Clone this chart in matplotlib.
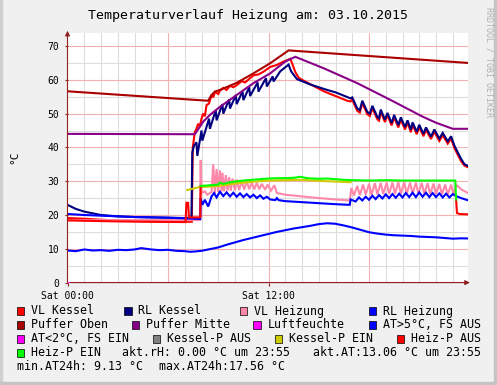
import numpy as np
import matplotlib
matplotlib.use("Agg")
import matplotlib.pyplot as plt
from matplotlib.patches import Rectangle

nan = np.nan

# Stunden seit Sat 00:00
t_vlk = [0, 1, 2, 3, 4, 5, 6, 7.0, 7.42, 7.48, 7.6, 7.7, 7.8, 7.9, 8.0, 8.1, 8.2, 8.3, 8.45, 8.6, 8.7,
         8.8, 9.0, 9.1, 9.3, 9.5, 9.7, 9.9, 10.1, 10.4, 10.6, 10.9, 11.1, 11.4, 11.7, 12.1, 12.5, 12.9,
         13.3, 13.4, 13.6, 13.8, 14.3, 15.3, 16.0, 16.7, 16.9, 17.0, 17.3, 17.45, 17.6, 17.9, 18.05, 18.2,
         18.5, 18.6, 18.7, 18.95, 19.1, 19.35, 19.5, 19.75, 19.9, 20.15, 20.3, 20.5, 20.6, 20.85, 21.0,
         21.25, 21.4, 21.7, 21.9, 22.2, 22.4, 22.7, 22.9, 23.1, 23.3, 23.5, 23.7, 23.88]
v_vlk = [19.1, 18.9, 18.6, 18.4, 18.2, 18.1, 18.0, 18.0, 18.0, 40.0, 44.5, 45.5, 47.0, 46.2, 48.5, 50.0,
         49.2, 52.5, 53.0, 55.5, 54.8, 56.4, 55.8, 56.8, 57.6, 57.0, 58.2, 57.8, 58.4, 59.6, 59.2, 60.5,
         61.3, 61.6, 62.4, 63.8, 64.4, 65.4, 66.2, 65.0, 62.3, 60.6, 59.2, 56.6, 55.2, 53.8, 53.6, 54.1,
         50.8, 50.3, 53.1, 49.8, 49.3, 51.6, 48.3, 47.9, 50.5, 47.5, 49.5, 46.5, 48.9, 45.9, 48.2, 45.3,
         47.3, 44.5, 46.7, 43.9, 46.0, 43.3, 45.2, 42.5, 44.6, 41.9, 43.6, 41.1, 42.6, 39.8, 37.8, 35.9,
         34.6, 34.2]

t_rlk = [0, 0.5, 1, 2, 3, 4, 5, 6, 7, 7.4, 7.45, 7.55, 7.7, 7.75, 8.0, 8.05, 8.45, 8.5, 8.85, 8.9, 9.25,
         9.3, 9.65, 9.7, 10.05, 10.1, 10.45, 10.5, 10.85, 10.9, 11.35, 11.4, 11.85, 11.9, 12.25, 12.3,
         12.7, 13.2, 13.35, 13.5, 13.7, 14.0, 14.5, 15.0, 15.5, 16.0, 16.5, 16.9, 17.0, 17.3, 17.45, 17.6,
         17.9, 18.05, 18.2, 18.5, 18.6, 18.7, 18.95, 19.1, 19.35, 19.5, 19.75, 19.9, 20.15, 20.3, 20.5,
         20.6, 20.85, 21.0, 21.25, 21.4, 21.7, 21.9, 22.2, 22.4, 22.7, 22.9, 23.1, 23.3, 23.5, 23.7, 23.88]
v_rlk = [23.0, 21.8, 21.0, 20.0, 19.6, 19.4, 19.3, 19.2, 19.1, 19.2, 38.5, 40.5, 41.5, 37.5, 45.0, 42.0,
         48.5, 45.5, 51.0, 48.0, 52.8, 50.0, 54.2, 51.5, 55.5, 52.8, 56.6, 54.0, 57.8, 55.2, 59.2, 56.5,
         60.5, 58.0, 61.0, 59.5, 62.5, 64.5, 62.5, 61.5, 60.2, 59.6, 58.6, 57.8, 57.0, 56.3, 55.3, 54.5,
         54.8, 51.5, 51.0, 53.8, 50.5, 50.0, 52.3, 49.0, 48.6, 51.2, 48.2, 50.2, 47.2, 49.6, 46.6, 48.9,
         46.0, 48.0, 45.2, 47.4, 44.6, 46.7, 44.0, 45.9, 43.2, 45.3, 42.6, 44.3, 41.8, 43.3, 40.5, 38.5,
         36.6, 35.0, 34.6]

t_vlh = [0, 7.9, 7.95, 8.0, 8.2, 8.35, 8.6, 8.7, 8.8, 8.9, 9.0, 9.1, 9.2, 9.25, 9.35, 9.45, 9.55, 9.65,
         9.75, 9.85, 10.0, 10.1, 10.25, 10.4, 10.55, 10.7, 10.85, 11.0, 11.15, 11.3, 11.45, 11.6, 11.8,
         11.95, 12.15, 12.35, 12.5, 13.0, 14.0, 15.0, 16.0, 16.85, 16.95, 17.1, 17.3, 17.45, 17.65, 17.8,
         18.0, 18.15, 18.35, 18.5, 18.7, 18.85, 19.05, 19.2, 19.4, 19.55, 19.75, 19.9, 20.1, 20.25, 20.45,
         20.6, 20.8, 20.95, 21.15, 21.3, 21.5, 21.65, 21.85, 22.0, 22.2, 22.35, 22.55, 22.7, 22.9, 23.05,
         23.2, 23.5, 23.88]
v_vlh = [18.5, 18.5, 36.3, 26.5, 27.0, 26.0, 26.8, 35.0, 26.5, 33.6, 26.8, 33.2, 27.0, 32.5, 27.0, 31.8,
         27.2, 31.2, 27.2, 30.8, 27.3, 30.5, 27.4, 30.0, 27.5, 30.0, 27.6, 29.6, 27.6, 29.5, 27.6, 29.2,
         27.5, 29.0, 27.2, 28.8, 26.5, 26.0, 25.5, 25.0, 24.6, 24.3, 28.0, 25.8, 28.6, 25.9, 29.0, 26.0,
         29.2, 26.0, 29.4, 26.1, 29.5, 26.2, 29.6, 26.2, 29.6, 26.3, 29.7, 26.3, 29.7, 26.3, 29.6, 26.3,
         29.6, 26.3, 29.5, 26.3, 29.4, 26.2, 29.3, 26.2, 29.2, 26.1, 29.0, 26.1, 29.0, 26.0, 29.0, 27.6,
         26.6]

t_rlh = [0, 1, 2, 3, 4, 5, 6, 7, 7.93, 7.95, 8.05, 8.2, 8.4, 8.6, 8.75, 8.9, 9.1, 9.3, 9.5, 9.7, 9.9,
         10.1, 10.3, 10.5, 10.7, 10.9, 11.1, 11.3, 11.5, 11.7, 11.9, 12.1, 12.4, 12.5, 12.6, 13.0, 14.0,
         15.0, 16.0, 16.85, 16.9, 17.2, 17.4, 17.6, 17.8, 18.0, 18.2, 18.4, 18.6, 18.8, 19.0, 19.2, 19.4,
         19.6, 19.8, 20.0, 20.2, 20.4, 20.6, 20.8, 21.0, 21.2, 21.4, 21.6, 21.8, 22.0, 22.2, 22.4, 22.6,
         22.8, 23.0, 23.2, 23.5, 23.88]
v_rlh = [20.3, 20.0, 19.8, 19.6, 19.4, 19.3, 19.2, 19.0, 18.8, 25.0, 23.0, 24.5, 22.5, 25.5, 26.5, 25.2,
         26.9, 25.6, 26.7, 25.5, 26.6, 25.4, 26.4, 25.3, 26.2, 25.2, 26.0, 25.0, 25.8, 24.8, 25.4, 24.6,
         24.4, 25.0, 24.4, 24.1, 23.8, 23.5, 23.2, 23.0, 24.6, 24.0, 25.2, 24.3, 25.4, 24.5, 25.7, 24.7,
         25.9, 24.9, 26.1, 25.0, 26.2, 25.1, 26.3, 25.2, 26.5, 25.3, 26.6, 25.3, 26.7, 25.4, 26.6, 25.3,
         26.5, 25.3, 26.4, 25.2, 26.3, 25.2, 26.2, 25.6, 25.0, 24.4]

t_po = [0, 8.4, 8.6, 8.8, 9.1, 10.1, 11.1, 12.1, 13.2, 23.88]
v_po = [56.6, 53.8, 55.5, 56.5, 57.0, 59.1, 61.9, 64.9, 68.7, 65.0]

t_pm = [0, 7.6, 7.9, 8.1, 8.5, 9.1, 10.1, 11.1, 12.1, 13.0, 13.6, 15.3, 17.3, 19.3, 21.2, 22.0, 23.0, 23.88]
v_pm = [44.0, 43.9, 46.1, 47.6, 49.6, 52.0, 55.5, 59.0, 61.9, 65.4, 66.8, 63.4, 59.0, 54.0, 49.1, 47.3,
        45.5, 45.5]

t_rh = [0, 23.88]
v_rh = [0.0, 0.0]

t_at = [0, 0.5, 1.0, 1.5, 2.0, 2.5, 3.0, 3.5, 4.0, 4.4, 5.0, 5.5, 6.0, 6.5, 7.0, 7.3, 7.6, 8.0, 8.5, 9.0,
        9.5, 10.0, 10.5, 11.0, 11.5, 12.0, 12.5, 13.0, 13.5, 14.0, 14.5, 15.0, 15.5, 16.0, 16.5, 17.0,
        17.5, 18.0, 18.5, 19.0, 19.5, 20.0, 20.5, 21.0, 21.5, 22.0, 22.5, 23.0, 23.5, 23.88]
v_at = [9.5, 9.3, 9.8, 9.5, 9.6, 9.4, 9.7, 9.6, 9.8, 10.2, 9.8, 9.6, 9.7, 9.4, 9.3, 9.13, 9.2, 9.4, 9.9,
        10.4, 11.2, 11.9, 12.6, 13.2, 13.8, 14.4, 15.0, 15.5, 16.0, 16.4, 16.8, 17.3, 17.56, 17.4, 16.9,
        16.3, 15.6, 14.9, 14.5, 14.2, 14.0, 13.9, 13.8, 13.6, 13.5, 13.4, 13.2, 13.0, 13.1, 13.06]

t_kein = [7.15, 7.9, 8.5, 9.0, 10.0, 11.0, 12.0, 13.0, 14.0, 15.0, 16.0, 16.9]
v_kein = [27.4, 28.3, 28.4, 28.6, 29.3, 29.8, 30.2, 30.3, 30.4, 30.1, 29.9, 29.7]

t_haus = [0, 3, 7.05, 7.1, 7.2, 7.25, 7.93, 7.95, nan, 23.2, 23.25, 23.4, 23.88]
v_haus = [18.4, 18.1, 17.9, 23.6, 23.6, 19.3, 19.3, 28.6, nan, 24.6, 20.6, 20.3, 20.2]

t_hein = [7.95, 8.5, 9.0, 9.1, 9.3, 9.6, 10.0, 10.5, 11.0, 11.5, 12.0, 12.5, 13.0, 13.5, 13.9, 14.3, 15.0,
          15.5, 16.0, 16.5, 17.0, 18.0, 19.0, 20.0, 21.0, 22.0, 23.15, 23.2]
v_hein = [28.6, 28.8, 29.0, 29.6, 29.2, 29.6, 29.9, 30.2, 30.4, 30.6, 30.8, 30.9, 30.9, 31.0, 31.3, 30.9,
          30.7, 30.8, 30.6, 30.4, 30.3, 30.2, 30.3, 30.2, 30.2, 30.2, 30.2, 24.6]

series = [
    ("VL Kessel", "#ff0000", t_vlk, v_vlk),
    ("RL Kessel", "#000080", t_rlk, v_rlk),
    ("VL Heizung", "#ff88aa", t_vlh, v_vlh),
    ("RL Heizung", "#0000ff", t_rlh, v_rlh),
    ("Puffer Oben", "#aa0000", t_po, v_po),
    ("Puffer Mitte", "#880088", t_pm, v_pm),
    ("Luftfeuchte", "#ff00ff", t_rh, v_rh),
    ("AT>5°C, FS AUS", "#0000ff", t_at, v_at),
    ("AT<2°C, FS EIN", "#ff00ff", [], []),
    ("Kessel-P AUS", "#808080", [], []),
    ("Kessel-P EIN", "#cccc00", t_kein, v_kein),
    ("Heiz-P AUS", "#ff0000", t_haus, v_haus),
    ("Heiz-P EIN", "#00ff00", t_hein, v_hein),
]

W, H = 497, 385
mono = "DejaVu Sans Mono"
axcol = "#902020"
lfs = 8.4

fig = plt.figure(figsize=(W / 100, H / 100), dpi=100, facecolor="#f0f0f0")

# Rahmen
fig.patches.append(Rectangle((0, 0), 2 / W, 1, transform=fig.transFigure, color="#d0d0d0", zorder=0))
fig.patches.append(Rectangle((494 / W, 0), 3 / W, 1, transform=fig.transFigure, color="#c4c4c4", zorder=0))
fig.patches.append(Rectangle((0, 0), 1, 3 / H, transform=fig.transFigure, color="#c4c4c4", zorder=0))

x0, x1, ytop, ybot = 67.5, 467.5, 33, 282.6
ax = fig.add_axes([x0 / W, (H - ybot) / H, (x1 - x0) / W, (ybot - ytop) / H])
ax.set_facecolor("white")
ax.set_xlim(0, 23.88)
ax.set_ylim(0, (ybot - ytop) / 3.38)

# Gitter
for h in range(1, 24):
    ax.axvline(h, color="#f3b0b0" if h % 6 == 0 else "#dddddd", lw=0.8, zorder=1)
for v in range(5, 75, 5):
    ax.axhline(v, color="#f3b0b0" if v % 10 == 0 else "#dddddd", lw=0.8, zorder=1)

for name, col, t, v in series:
    ax.plot(t, v, color=col, lw=1.5, zorder=3, solid_joinstyle="miter")

for s in ax.spines.values():
    s.set_visible(False)
ax.annotate("", xy=(1.013, 0), xytext=(0, 0), xycoords="axes fraction",
            arrowprops=dict(arrowstyle="-|>", color=axcol, lw=0.8, mutation_scale=7), zorder=5)
ax.annotate("", xy=(0, 1.02), xytext=(0, -0.01), xycoords="axes fraction",
            arrowprops=dict(arrowstyle="-|>", color=axcol, lw=0.8, mutation_scale=7), zorder=5)

ax.set_yticks(range(0, 71, 10))
ax.set_yticklabels([str(v) for v in range(0, 71, 10)], fontfamily=mono, fontsize=7)
ax.set_xticks([0, 12])
ax.set_xticklabels(["Sat 00:00", "Sat 12:00"], fontfamily=mono, fontsize=7)
ax.tick_params(axis="y", length=2, color=axcol, pad=4)
ax.tick_params(axis="x", length=2, color=axcol, pad=4)

fig.text(248 / W, 1 - 16 / H, "Temperaturverlauf Heizung am: 03.10.2015", ha="center", va="center",
         fontfamily=mono, fontsize=9.5)
fig.text(14 / W, 1 - 157 / H, "°C", rotation=90, ha="center", va="center", fontfamily=mono, fontsize=8)
fig.text(489 / W, 1 - 7 / H, "RRDTOOL / TOBI OETIKER", rotation=270, ha="center", va="top",
         fontfamily=mono, fontsize=6, color="#b0b0b0")

# Legende
rows_y = [311, 325, 339, 353, 367]
legend_x = [30.7, 138.3, 254, 382.7,
            30.7, 145.7, 267.3, 382.7,
            30.7, 166.7, 288.7, 410.7,
            30.7]
for i, (name, col, t, v) in enumerate(series):
    yy = rows_y[i // 4]
    xx = legend_x[i]
    fig.patches.append(Rectangle(((xx - 14.2) / W, 1 - (yy + 3.7) / H), 7.5 / W, 7.5 / H,
                                 transform=fig.transFigure, facecolor=col, edgecolor="black", lw=0.5))
    fig.text(xx / W, 1 - yy / H, name, ha="left", va="center", fontfamily=mono, fontsize=lfs)

fig.text(122 / W, 1 - 353 / H, "akt.rH: 0.00 °C um 23:55", ha="left", va="center", fontfamily=mono, fontsize=lfs)
fig.text(312.7 / W, 1 - 353 / H, "akt.AT:13.06 °C um 23:55", ha="left", va="center", fontfamily=mono, fontsize=lfs)
fig.text(16.7 / W, 1 - 367 / H, "min.AT24h: 9.13 °C", ha="left", va="center", fontfamily=mono, fontsize=lfs)
fig.text(159 / W, 1 - 367 / H, "max.AT24h:17.56 °C", ha="left", va="center", fontfamily=mono, fontsize=lfs)

fig.savefig("out.png", dpi=100, facecolor=fig.get_facecolor())
